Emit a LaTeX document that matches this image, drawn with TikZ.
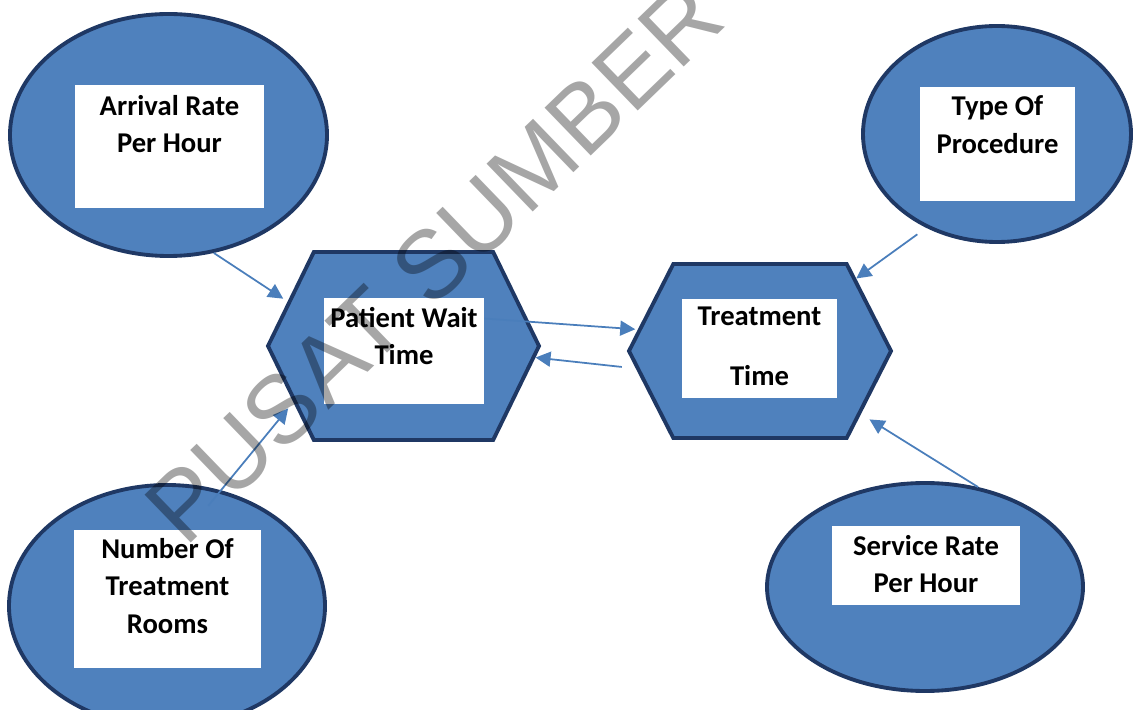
\documentclass[tikz,border=0pt]{standalone}
\usepackage{fontspec}
\setmainfont{Carlito}
\newfontfamily\wmfont{Liberation Sans}
\usepackage{tikz}
\usetikzlibrary{shapes.geometric,shapes.symbols,arrows.meta,positioning}
\definecolor{fillblue}{HTML}{4F81BD}
\definecolor{edge}{HTML}{1F3864}
\definecolor{link}{HTML}{4A7EBB}
\tikzset{
  factor/.style={ellipse, draw=edge, fill=fillblue, line width=2.2pt, inner sep=0pt},
  measure/.style={signal, signal to=east and west, draw=edge, fill=fillblue, line width=2.2pt, inner sep=0pt},
  cardbox/.style={rectangle, fill=white, inner sep=0pt},
  lab/.style={font=\fontsize{16.3}{21.5}\selectfont\bfseries, align=center, inner sep=0pt, anchor=north},
  flow/.style={draw=link, line width=1pt, -{Triangle[length=3mm,width=3mm]}},
  wmark/.style={text=black, opacity=0.35, font=\wmfont\fontsize{55}{55}\selectfont, inner sep=0pt},
}
\begin{document}
\begin{tikzpicture}[x=0.2mm, y=-0.2mm]
\useasboundingbox (0,0) rectangle (1134,710);

\node[factor, minimum width=63.4mm, minimum height=48.4mm] (arrival) at (168.5,135) {};
\node[factor, minimum width=53.6mm, minimum height=43.2mm] (proc) at (997,134) {};
\node[factor, minimum width=63.2mm, minimum height=48.4mm] (rooms) at (167,606) {};
\node[factor, minimum width=63.2mm, minimum height=41.6mm] (serv) at (925,587) {};

\node[measure, signal pointer angle=128, minimum width=54.2mm, minimum height=37.6mm] (wait) at (403.5,346) {};
\node[measure, signal pointer angle=126, minimum width=52.4mm, minimum height=34.8mm] (treat) at (760,351) {};

\node[cardbox, minimum width=37.8mm, minimum height=24.6mm] (arrcard) at (169.5,146.5) {};
\node[cardbox, minimum width=31mm, minimum height=22.8mm] (proccard) at (997.5,144) {};
\node[cardbox, minimum width=37.4mm, minimum height=27.6mm] (roomcard) at (167.5,599) {};
\node[cardbox, minimum width=37.6mm, minimum height=15.8mm] (servcard) at (926,565.5) {};
\node[cardbox, minimum width=32mm, minimum height=21.2mm] (waitcard) at (404,351) {};
\node[cardbox, minimum width=31mm, minimum height=19.8mm] (treatcard) at (759.5,348.5) {};

\node[lab, below=2mm of arrcard.north] (arrtext) {Arrival Rate\\Per Hour};
\node[lab, below=1.8mm of proccard.north] (proctext) {Type Of\\Procedure};
\node[lab, below=1.6mm of roomcard.north] (roomtext) {Number Of\\Treatment\\Rooms};
\node[lab, below=1.8mm of servcard.north] (servtext) {Service Rate\\Per Hour};
\node[lab, below=1.8mm of waitcard.north] (waittext) {Patient Wait\\Time};
\node[lab, below=1.6mm of treatcard.north] (treattext) {Treatment\\[12.5pt]Time};

\draw[flow, shorten >=1mm] (arrival.-69) -- (wait.159);
\draw[flow, shorten <=-4mm, shorten >=1.6mm] (rooms.65) -- (wait.207);
\draw[flow, shorten >=0.5mm] (waitcard.22) -- (treat.170);
\draw[flow, shorten <=2.8mm] (treat.188) -- (wait.-5);
\draw[flow, shorten <=2.2mm] (proc.-127) -- (treat.37);
\draw[flow, shorten >=2mm] (serv.62) -- (treat.-32);

\node[wmark, rotate=44] (wm) at (434,262) {PUSAT SUMBER};
\end{tikzpicture}
\end{document}
